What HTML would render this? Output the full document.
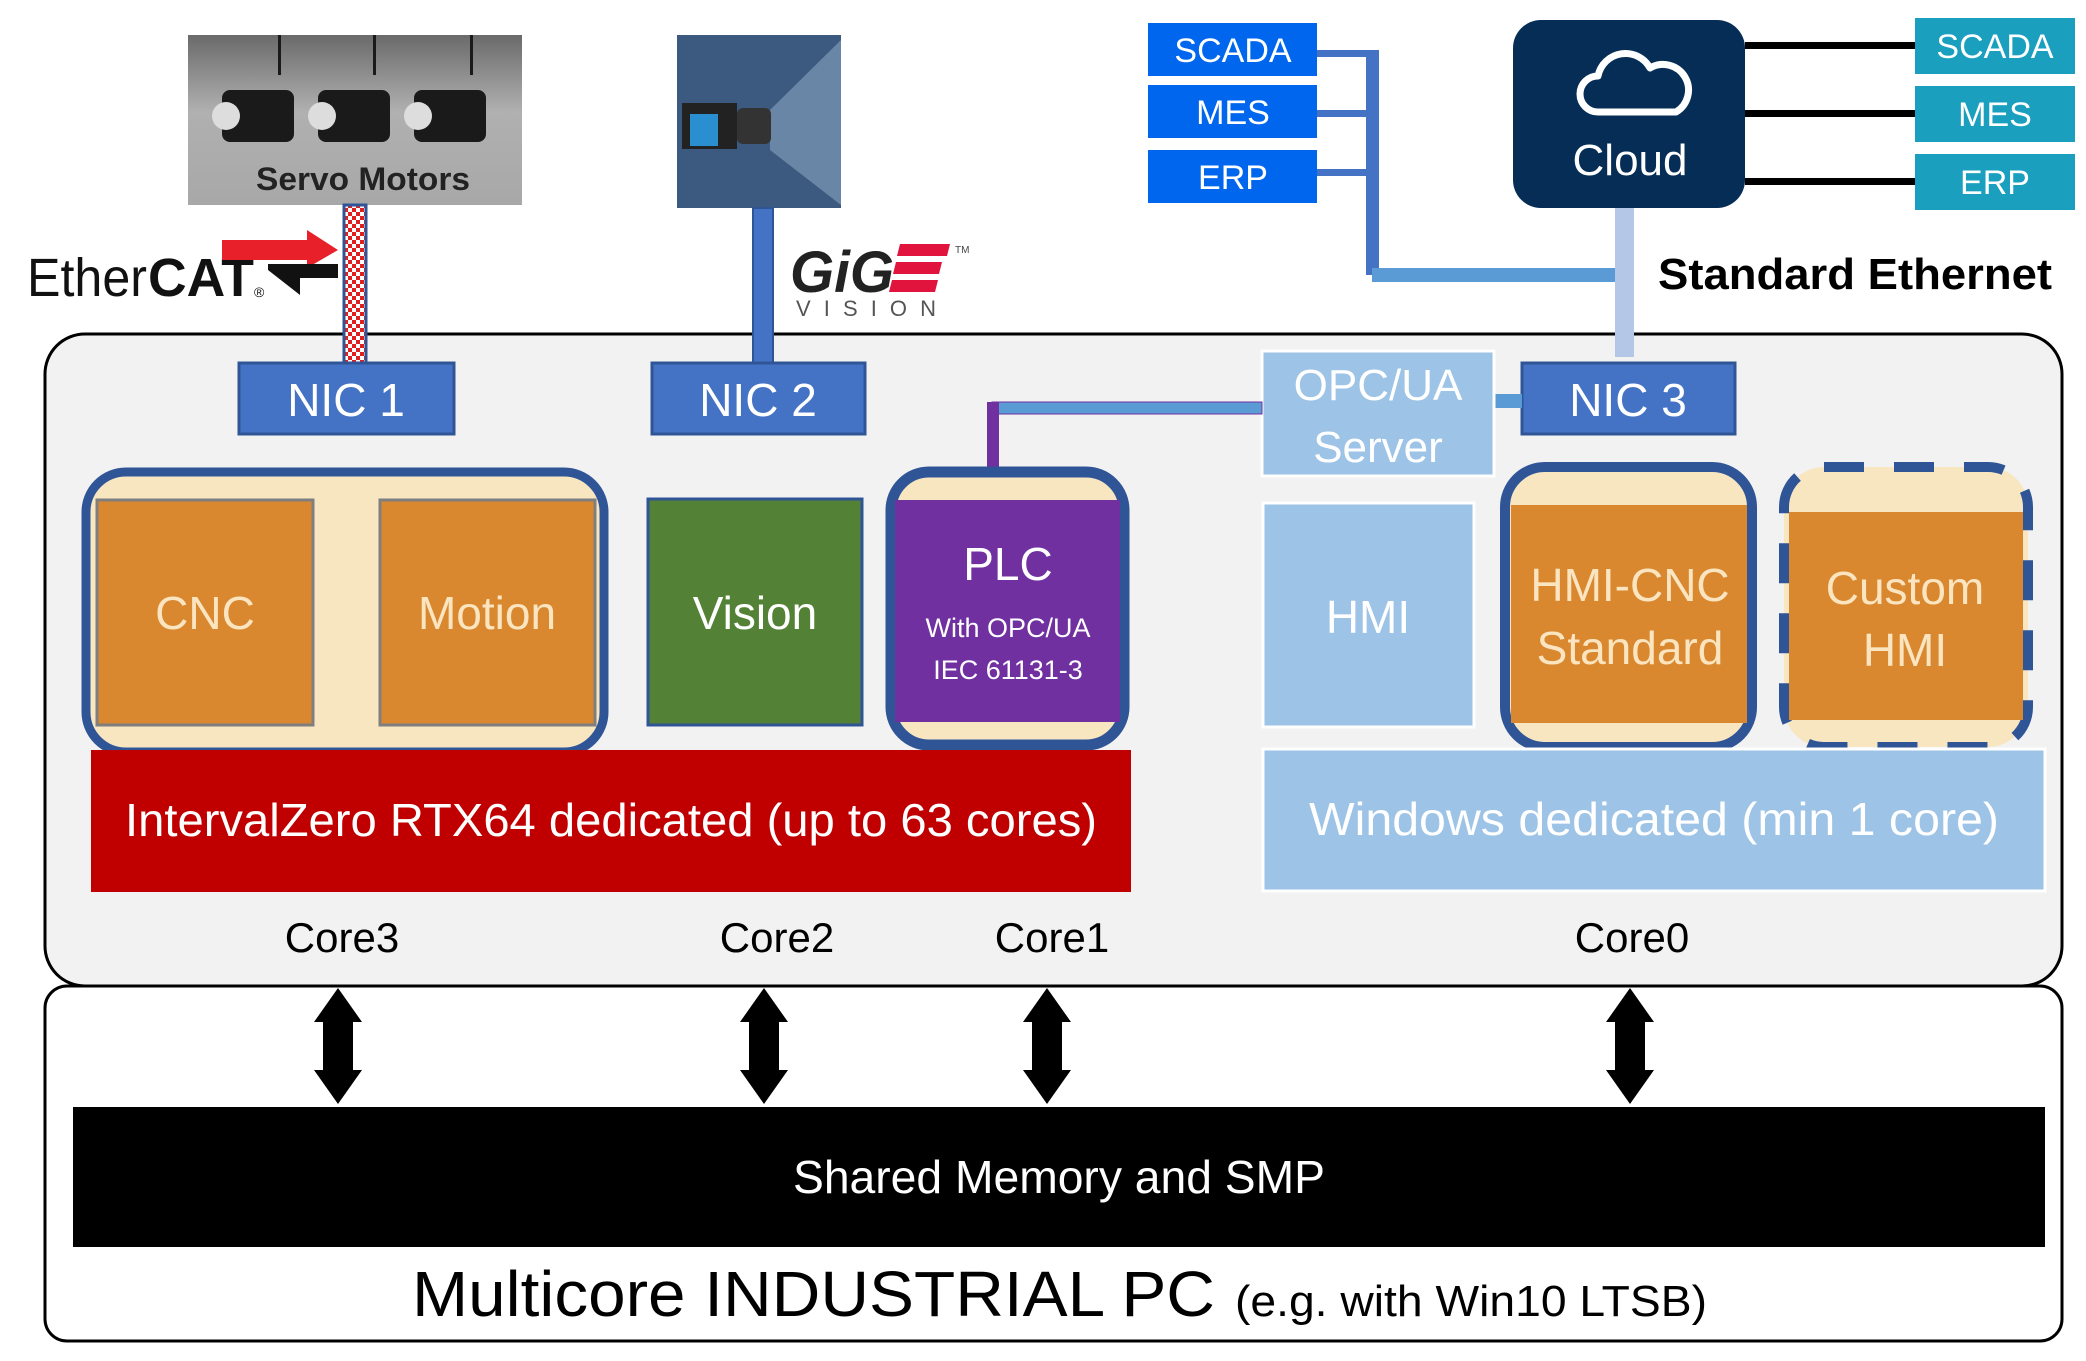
<!DOCTYPE html>
<html><head><meta charset="utf-8"><style>
html,body{margin:0;padding:0;background:#fff;}
svg{display:block;}
text{font-family:"Liberation Sans",sans-serif;}
</style></head><body>
<svg width="2086" height="1361" viewBox="0 0 2086 1361" xmlns="http://www.w3.org/2000/svg">
<defs>
<linearGradient id="gs" x1="0" y1="0" x2="0" y2="1"><stop offset="0" stop-color="#6a6a6a"/><stop offset="0.45" stop-color="#b0b0b0"/><stop offset="1" stop-color="#a8a8a8"/></linearGradient>
<pattern id="chk" width="8" height="8" patternUnits="userSpaceOnUse"><rect width="8" height="8" fill="#fff"/><rect width="4" height="4" fill="#e02020"/><rect x="4" y="4" width="4" height="4" fill="#e02020"/></pattern>
</defs>

<!-- main boxes -->
<rect x="45" y="334" width="2017" height="652" rx="40" fill="#f2f2f2" stroke="#000" stroke-width="3"/>
<rect x="45" y="986" width="2017" height="355" rx="22" fill="#fff" stroke="#000" stroke-width="3"/>

<!-- servo -->
<rect x="188" y="35" width="334" height="170" fill="url(#gs)"/>
<g fill="#1a1a1a">
<rect x="278" y="35" width="3" height="40"/><rect x="373" y="35" width="3" height="40"/><rect x="470" y="35" width="3" height="40"/>
<rect x="222" y="90" width="72" height="52" rx="8"/><rect x="318" y="90" width="72" height="52" rx="8"/><rect x="414" y="90" width="72" height="52" rx="8"/>
</g>
<g fill="#ddd"><circle cx="226" cy="116" r="14"/><circle cx="322" cy="116" r="14"/><circle cx="418" cy="116" r="14"/></g>
<text x="363" y="190" font-size="32" font-weight="bold" fill="#222" text-anchor="middle" textLength="214" lengthAdjust="spacingAndGlyphs">Servo Motors</text>

<!-- camera -->
<rect x="677" y="35" width="164" height="173" fill="#3c5a80"/>
<polygon points="770,110 841,40 841,205 770,150" fill="#6a86a6"/>
<rect x="682" y="103" width="55" height="46" fill="#222"/>
<rect x="690" y="114" width="28" height="32" fill="#2a8fd0"/>
<rect x="737" y="108" width="34" height="36" rx="6" fill="#333"/>

<!-- EtherCAT -->
<text x="27" y="296" font-size="54" fill="#111" textLength="120" lengthAdjust="spacingAndGlyphs">Ether</text>
<text x="148" y="296" font-size="54" font-weight="bold" fill="#111" textLength="106" lengthAdjust="spacingAndGlyphs">CAT</text>
<text x="254" y="297" font-size="14" fill="#111">®</text>
<polygon points="222,240 307,240 307,230 338,250 307,268 307,260 222,260" fill="#e8202a"/>
<polygon points="268,264 338,264 338,278 300,278 300,295 268,270" fill="#111"/>
<rect x="344" y="205" width="22" height="158" fill="url(#chk)" stroke="#2f5597" stroke-width="3"/>

<!-- GigE -->
<rect x="753" y="208" width="20" height="155" fill="#4472c4" stroke="#2f5597" stroke-width="2"/>
<text x="790" y="292" font-size="58" font-weight="bold" font-style="italic" fill="#222" textLength="104" lengthAdjust="spacingAndGlyphs">GiG</text>
<g fill="#e0143c"><polygon points="900,244 950,244 947,256 897,256"/><polygon points="896,262 942,262 939,274 893,274"/><polygon points="892,280 938,280 935,292 889,292"/></g>
<text x="955" y="253" font-size="10" fill="#444">TM</text>
<text x="796" y="316" font-size="22" fill="#555" textLength="140" lengthAdjust="spacing">VISION</text>

<!-- NICs -->
<g fill="#4472c4" stroke="#2f5597" stroke-width="3">
<rect x="239" y="363" width="215" height="71"/><rect x="652" y="363" width="213" height="71"/><rect x="1522" y="363" width="213" height="71"/>
</g>
<g font-size="46" fill="#fff" text-anchor="middle">
<text x="346" y="416">NIC 1</text><text x="758" y="416">NIC 2</text><text x="1628" y="416">NIC 3</text>
</g>

<!-- top right network -->
<g fill="#0066ee"><rect x="1148" y="23" width="169" height="53"/><rect x="1148" y="85" width="169" height="53"/><rect x="1148" y="150" width="169" height="53"/></g>
<g font-size="34" fill="#fff" text-anchor="middle"><text x="1233" y="62">SCADA</text><text x="1233" y="124">MES</text><text x="1233" y="189">ERP</text></g>
<g fill="#4472c4"><rect x="1317" y="50" width="56" height="7"/><rect x="1317" y="110" width="56" height="7"/><rect x="1317" y="169" width="56" height="7"/><rect x="1366" y="50" width="13" height="225"/></g>
<rect x="1372" y="268" width="246" height="14" fill="#5b9bd5"/>
<rect x="1615" y="205" width="19" height="152" fill="#b4c7e7"/>
<rect x="1513" y="20" width="232" height="188" rx="28" fill="#062d55"/>
<path d="M1598,112 a18,18 0 0 1 0,-36 a28,28 0 0 1 52,-8 a22,22 0 0 1 26,44 z" fill="none" stroke="#fff" stroke-width="7" stroke-linejoin="round"/>
<text x="1630" y="175" font-size="44" fill="#fff" text-anchor="middle">Cloud</text>
<g fill="#000"><rect x="1745" y="42" width="170" height="7"/><rect x="1745" y="110" width="170" height="7"/><rect x="1745" y="178" width="170" height="7"/></g>
<g fill="#1a9fbf"><rect x="1915" y="18" width="160" height="56"/><rect x="1915" y="86" width="160" height="56"/><rect x="1915" y="154" width="160" height="56"/></g>
<g font-size="34" fill="#fff" text-anchor="middle"><text x="1995" y="58">SCADA</text><text x="1995" y="126">MES</text><text x="1995" y="194">ERP</text></g>
<text x="1658" y="289" font-size="44" font-weight="bold" fill="#000" textLength="394" lengthAdjust="spacingAndGlyphs">Standard Ethernet</text>

<!-- OPC/UA -->
<rect x="1494" y="394" width="28" height="14" fill="#5b9bd5"/>
<rect x="1262" y="351" width="232" height="125" fill="#9dc3e6" stroke="#fff" stroke-width="3"/>
<g font-size="44" fill="#fff" text-anchor="middle"><text x="1378" y="400">OPC/UA</text><text x="1378" y="462">Server</text></g>
<rect x="992" y="402" width="270" height="12" fill="#5b9bd5" stroke="#7030a0" stroke-width="1"/>
<rect x="987" y="402" width="12" height="66" fill="#7030a0"/>

<!-- CNC / Motion group -->
<rect x="86" y="472" width="518" height="280" rx="40" fill="#f8e6c0" stroke="#2f5597" stroke-width="9"/>
<rect x="97" y="500" width="216" height="225" fill="#d9882f" stroke="#7f7f7f" stroke-width="3"/>
<rect x="380" y="500" width="215" height="225" fill="#d9882f" stroke="#7f7f7f" stroke-width="3"/>
<g font-size="46" fill="#fbe5c0" text-anchor="middle"><text x="205" y="629">CNC</text><text x="487" y="629">Motion</text></g>

<!-- Vision -->
<rect x="648" y="499" width="214" height="226" fill="#538135" stroke="#2f5597" stroke-width="3"/>
<text x="755" y="629" font-size="46" fill="#fff" text-anchor="middle">Vision</text>

<!-- PLC -->
<rect x="891" y="472" width="233" height="273" rx="38" fill="#f8e6c0" stroke="#2f5597" stroke-width="11"/>
<rect x="895" y="500" width="225" height="222" fill="#7030a0"/>
<rect x="895" y="500" width="225" height="222" fill="#7030a0"/>
<g fill="#fff" text-anchor="middle"><text x="1008" y="580" font-size="46">PLC</text><text x="1008" y="637" font-size="27">With OPC/UA</text><text x="1008" y="679" font-size="27">IEC 61131-3</text></g>

<!-- red bar -->
<rect x="91" y="750" width="1040" height="142" fill="#c00000"/>
<text x="611" y="836" font-size="46" fill="#fff" text-anchor="middle" textLength="972" lengthAdjust="spacingAndGlyphs">IntervalZero RTX64 dedicated (up to 63 cores)</text>

<!-- HMI -->
<rect x="1263" y="503" width="211" height="224" fill="#9dc3e6" stroke="#fff" stroke-width="3"/>
<text x="1368" y="633" font-size="46" fill="#fff" text-anchor="middle">HMI</text>
<rect x="1505" y="467" width="247" height="280" rx="40" fill="#f8e6c0" stroke="#2f5597" stroke-width="10"/>
<rect x="1511" y="505" width="236" height="218" fill="#d9882f"/>
<g font-size="46" fill="#fbe5c0" text-anchor="middle"><text x="1630" y="601">HMI-CNC</text><text x="1630" y="664">Standard</text></g>
<rect x="1784" y="467" width="244" height="280" rx="40" fill="#f8e6c0" stroke="#2f5597" stroke-width="10" stroke-dasharray="40,30"/>
<rect x="1789" y="512" width="234" height="208" fill="#d9882f"/>
<g font-size="46" fill="#fbe5c0" text-anchor="middle"><text x="1905" y="604">Custom</text><text x="1905" y="666">HMI</text></g>

<!-- Windows bar -->
<rect x="1263" y="749" width="782" height="142" fill="#9dc3e6" stroke="#fff" stroke-width="3"/>
<text x="1654" y="835" font-size="46" fill="#fff" text-anchor="middle" textLength="690" lengthAdjust="spacingAndGlyphs">Windows dedicated (min 1 core)</text>

<!-- core labels -->
<g font-size="42" fill="#000" text-anchor="middle"><text x="342" y="952">Core3</text><text x="777" y="952">Core2</text><text x="1052" y="952">Core1</text><text x="1632" y="952">Core0</text></g>

<!-- arrows -->
<g fill="#000">
<path id="ar" d="M338,988 l24,34 h-9 v48 h9 l-24,34 l-24,-34 h9 v-48 h-9 z"/>
<use href="#ar" x="426"/><use href="#ar" x="709"/><use href="#ar" x="1292"/>
</g>

<!-- shared memory -->
<rect x="73" y="1107" width="1972" height="140" fill="#000"/>
<text x="1059" y="1193" font-size="46" fill="#fff" text-anchor="middle" textLength="532" lengthAdjust="spacingAndGlyphs">Shared Memory and SMP</text>
<text x="412" y="1316" font-size="64" fill="#000" textLength="803" lengthAdjust="spacingAndGlyphs">Multicore INDUSTRIAL PC</text>
<text x="1235" y="1316" font-size="44" fill="#000" textLength="472" lengthAdjust="spacingAndGlyphs">(e.g. with Win10 LTSB)</text>
</svg>
</body></html>
